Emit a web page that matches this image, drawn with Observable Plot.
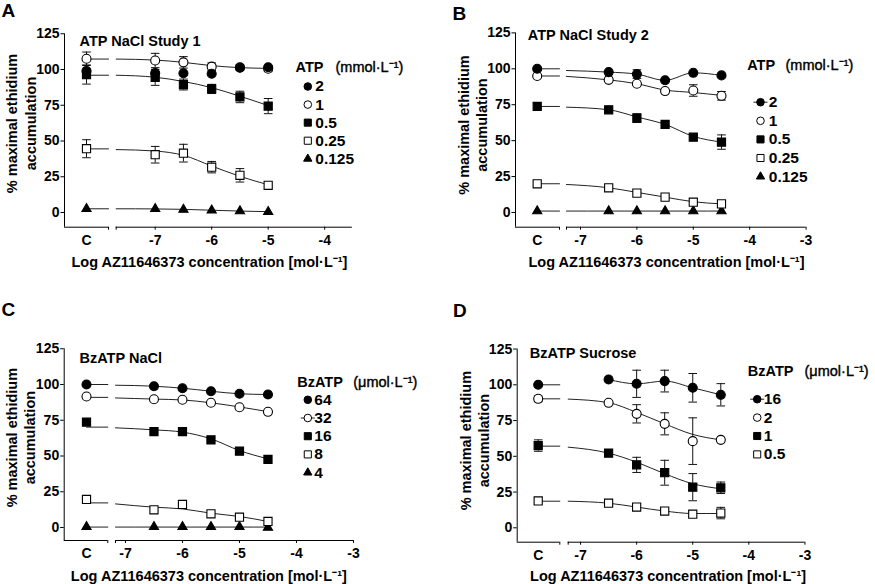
<!DOCTYPE html>
<html><head><meta charset="utf-8">
<script src="https://cdn.jsdelivr.net/npm/d3@7"></script>
<script src="https://cdn.jsdelivr.net/npm/@observablehq/plot@0.6"></script>
<style>
body{margin:0;background:#fff;}
#wrap{position:relative;width:875px;height:584px;overflow:hidden;background:#fff;font-family:"Liberation Sans",Arial,sans-serif;}
.panel{position:absolute;}
.letter{position:absolute;font-weight:bold;font-size:19px;line-height:1;color:#000;}
</style></head><body><div id="wrap"></div>
<script>
// ---------- DATA (first value in each row = control "C") ----------
const xLabel = "Log AZ11646373 concentration [mol·L⁻¹]";
const yLabel = "% maximal ethidium\naccumulation";
const xTicksA = [-7, -6, -5, -4];
const xTicksBCD = [-7, -6, -5, -4, -3];
const yTicks = [0, 25, 50, 75, 100, 125];

// Panel A: ATP NaCl Study 1
const xsA = [-7, -6.5, -6, -5.5, -5];
const labelsA = ["2", "1", "0.5", "0.25", "0.125"];
const valsA = [
  [99, 97.5, 97.4, 97, 101.2, 101.6],
  [107.5, 106.3, 105, 102, 101.5, 100.5],
  [96.5, 94.5, 89.5, 86.4, 80.8, 74.4],
  [44.6, 40.4, 41.5, 31.7, 26, 19],
  [2.5, 2.5, 2, 1.5, 1, 0.5]
];
const errsA = [
  [0, 0, 0, 0, 0, 0],
  [4.7, 5, 4, 2.6, 2, 2],
  [6.7, 5.6, 3.8, 3.2, 4, 5.3],
  [6.3, 5.8, 6.2, 4, 4.7, 0],
  [0, 0, 0, 0, 0, 0]
];
// fitted curve: [C segment level, value at start of log axis, value at each x]
const fitA = [
  null,
  [107.3, 107.3, 106.6, 105, 102.7, 101.3, 100.8],
  [96, 96, 94.6, 91.6, 87.3, 81.3, 74.8],
  [44.5, 44, 43, 40, 32.5, 25.3, 19.4],
  [2.6, 2.6, 2.5, 2.2, 1.6, 1, 0.6]
];

// Panel B: ATP NaCl Study 2
const xsB = [-6.5, -6, -5.5, -5, -4.5];
const labelsB = ["2", "1", "0.5", "0.25", "0.125"];
const valsB = [
  [100, 97.7, 96.3, 92, 97.2, 95.4],
  [95, 92.3, 89.6, 84.5, 84.9, 81.2],
  [73.8, 71.5, 65.7, 61.3, 52.4, 49],
  [20, 17.2, 13.5, 10.7, 7.2, 6],
  [1, 1, 1, 1, 1, 1]
];
const errsB = [
  [0, 0, 3, 0, 0, 0],
  [0, 0, 0, 0, 4, 3],
  [0, 0, 3, 0, 0, 5],
  [0, 0, 0, 0, 0, 2],
  [0, 0, 0, 0, 0, 0]
];
const fitB = [
  [100, 98.8, 97.7, 96.3, 92, 97.2, 95.4],
  [95, 94.7, 92.3, 89.6, 85.2, 83.5, 81.5],
  [73.8, 73.3, 71.5, 66.5, 61.3, 53, 49],
  [20, 19.5, 17.2, 14, 10.7, 7.5, 6],
  [1, 1, 1, 1, 1, 1, 1]
];

// Panel C: BzATP NaCl
const xsC = [-6.5, -6, -5.5, -5, -4.5];
const labelsC = ["64", "32", "16", "8", "4"];
const valsC = [
  [100, 98.8, 97.4, 95.3, 93.5, 93],
  [91.6, 89.7, 89.3, 87.2, 84.1, 80.9],
  [73.7, 67.1, 67.1, 61.3, 53.4, 47.6],
  [19.6, 12.4, 16.1, 9.6, 7.2, 4.2],
  [0.5, 0.5, 0.5, 0.5, 0.5, 0]
];
const errsC = [
  [0, 0, 0, 0, 0, 0],
  [0, 0, 0, 0, 0, 0],
  [0, 0, 0, 0, 0, 0],
  [0, 0, 0, 0, 0, 0],
  [0, 0, 0, 0, 0, 0]
];
const fitC = [
  [100, 99.5, 98.8, 97.4, 95.3, 93.5, 93],
  [91, 90.6, 89.8, 89.2, 87.2, 84.3, 81],
  [70.2, 69.7, 68.3, 66.7, 62, 53.8, 48],
  [17.2, 16.5, 14.2, 13, 10, 7.7, 4.2],
  [0.3, 0.3, 0.3, 0.3, 0.3, 0.3, 0.3]
];

// Panel D: BzATP Sucrose
const xsD = [-6.5, -6, -5.5, -5, -4.5];
const labelsD = ["16", "2", "1", "0.5"];
const valsD = [
  [100, 103.7, 100.7, 102.6, 97.9, 93],
  [90.2, 87.4, 79.7, 72.7, 60.6, 61.5],
  [57.5, 52.2, 44, 38.5, 28.4, 28],
  [18.8, 17.2, 14.5, 11.7, 9.5, 10.3]
];
const errsD = [
  [0, 0, 9.5, 7.6, 10, 7.8],
  [2, 0, 6.4, 7.7, 16.3, 0],
  [4, 0, 5.3, 8.7, 9.5, 4],
  [0, 0, 0, 0, 2, 4]
];
const fitD = [
  [100, null, 103.7, 100.7, 102.6, 97.9, 93],
  [90.2, 90, 87.5, 80.7, 72.7, 65.3, 61.5],
  [57.1, 56.4, 52.2, 45.9, 37.8, 30.8, 27.3],
  [18.6, 18.6, 17.2, 14.5, 11.7, 10, 10]
];

const symbols5 = ["circle", "circle", "square", "square", "triangle"];
const fills5 = ["black", "white", "black", "white", "black"];

// ---------- DRAWING ----------
const FONT = "Liberation Sans, Arial, sans-serif";
const capSym = {draw(ctx, size) { const w = Math.sqrt(size / Math.PI); ctx.moveTo(-w, 0); ctx.lineTo(w, 0); }};
const symR = {circle: 4.5, square: 4.6, triangle: 3.4};
const legR = {circle: 3.8, square: 4.0, triangle: 3.1};

function panel(cfg) {
  const {xs, labels, vals, errs, fits} = cfg;
  const syms = symbols5.slice(0, labels.length), fills = fills5.slice(0, labels.length);
  const k = cfg.decPx;
  const vmin = cfg.logStart - (cfg.logStartPx - cfg.axisPx) / k;
  const vC = cfg.logStart - (cfg.logStartPx - cfg.cPx) / k;
  const vCEnd = cfg.logStart - (cfg.logStartPx - cfg.cEndPx) / k;
  const right = cfg.axisPx + (cfg.logEnd - vmin) * k;
  const ky = (cfg.y0 - cfg.y100) / 100;
  const mT = cfg.y0 - 125 * ky;
  const yMin = -(cfg.bottom - cfg.y0) / ky;
  const W = 437, H = cfg.height;
  const mL = cfg.axisPx, mR = W - right, mB = H - cfg.bottom;
  const allX = [vC, ...xs];
  const pts = [], bars = [], caps = [], lines = [];
  labels.forEach((lab, s) => {
    vals[s].forEach((v, i) => {
      pts.push({s, x: allX[i], y: v});
      const e = errs[s][i];
      if (e > 0) {
        bars.push({x: allX[i], lo: v - e, hi: v + e});
        caps.push({x: allX[i], y: v - e}, {x: allX[i], y: v + e});
      }
    });
    const f = fits[s];
    if (f) {
      if (f[0] != null) lines.push({k: s + "c", x: vC, y: f[0]}, {k: s + "c", x: vCEnd, y: f[0]});
      [cfg.logStart, ...xs].forEach((x, j) => { if (f[j + 1] != null) lines.push({k: s + "l", x, y: f[j + 1]}); });
    }
  });
  const L = cfg.leg;
  const legendMarks = [];
  legendMarks.push(Plot.text([L.head], {text: d => d, frameAnchor: "top-left", dx: L.headX - mL, dy: L.headY - mT, textAnchor: "start", lineAnchor: "middle", fontSize: 14.5}));
  legendMarks.push(Plot.text([L.unit], {text: d => d, frameAnchor: "top-left", dx: L.headX + L.unitDx - mL, dy: L.headY - mT, textAnchor: "start", lineAnchor: "middle", fontSize: 14.5, fontWeight: "normal", fill: "black", stroke: "black", strokeWidth: 0.4}));
  labels.forEach((lab, i) => {
    const ry = L.row0 + i * L.step - mT;
    if (i === L.lineIdx) legendMarks.push(Plot.dot([0], {frameAnchor: "top-left", dx: L.symX - mL, dy: ry, symbol: capSym, r: 7, stroke: "#222", fill: "none", strokeWidth: 1}));
    legendMarks.push(Plot.dot([0], {frameAnchor: "top-left", dx: L.symX - mL, dy: ry, symbol: syms[i], r: legR[syms[i]], fill: fills[i], stroke: "black", strokeWidth: 1}));
    legendMarks.push(Plot.text([lab], {text: d => d, frameAnchor: "top-left", dx: L.textX - mL, dy: ry, textAnchor: "start", lineAnchor: "middle", fontSize: 15.5}));
  });
  const dotMarks = [];
  for (let s = labels.length - 1; s >= 0; s--) {
    dotMarks.push(Plot.dot(pts.filter(p => p.s === s), {x: "x", y: "y", symbol: syms[s], r: symR[syms[s]], fill: fills[s], stroke: "black", strokeWidth: 1.1}));
  }
  const svg = Plot.plot({
    width: W, height: H, marginLeft: mL, marginRight: mR, marginTop: mT, marginBottom: mB,
    x: {domain: [vmin, cfg.logEnd]},
    y: {domain: [yMin, 125]},
    style: {fontFamily: FONT, fontSize: "14px", fontWeight: "bold", color: "black", background: "transparent", overflow: "visible"},
    marks: [
      Plot.ruleX([vmin], {y1: () => yMin, y2: () => 125, stroke: "black", strokeWidth: 1}),
      Plot.ruleY([{a: vmin, b: vCEnd}, {a: cfg.logStart, b: cfg.logEnd}], {y: () => yMin, x1: "a", x2: "b", stroke: "black", strokeWidth: 1}),
      Plot.axisY({ticks: yTicks, tickSize: 3.5, tickPadding: 1.5, label: null, tickFormat: d => String(d)}),
      Plot.axisX({ticks: cfg.xTicks, tickSize: 3, tickPadding: 5, label: null, tickFormat: d => String(d)}),
      Plot.axisX({ticks: [vC], tickSize: 0, tickPadding: 8, label: null, tickFormat: () => "C"}),
      Plot.axisX({ticks: [vCEnd, cfg.logStart], tickSize: 3, label: null, tickFormat: () => ""}),
      Plot.text([xLabel], {text: d => d, frameAnchor: "bottom", dx: cfg.xLabDx, dy: cfg.xLabDy, lineAnchor: "middle", fontSize: 14.5}),
      Plot.text([yLabel], {text: d => d, frameAnchor: "left", rotate: -90, textAnchor: "middle", lineAnchor: "middle", lineHeight: 1.25, fontSize: 14.5, dx: cfg.yLabDx, dy: cfg.yLabDy}),
      Plot.text([cfg.title], {text: d => d, frameAnchor: "top-left", dx: cfg.titleX - mL, dy: cfg.titleY - mT, textAnchor: "start", lineAnchor: "middle", fontSize: 14.5}),
      Plot.line(lines, {x: "x", y: "y", z: "k", curve: "monotone-x", stroke: "#222", strokeWidth: 1}),
      Plot.ruleX(bars, {x: "x", y1: "lo", y2: "hi", stroke: "#111", strokeWidth: 1}),
      Plot.dot(caps, {x: "x", y: "y", symbol: capSym, r: 4.3, stroke: "#111", fill: "none", strokeWidth: 1}),
      ...dotMarks,
      ...legendMarks
    ]
  });
  svg.classList.add("panel");
  svg.style.left = cfg.left + "px";
  svg.style.top = cfg.top + "px";
  return svg;
}

const wrap = document.getElementById("wrap");
const cfgs = [
  {left: 0, top: 0, height: 290, axisPx: 64, cPx: 86, cEndPx: 108, logStartPx: 115.7, logStart: -7.69, logEnd: -3.51, decPx: 56.5,
   y0: 212, y100: 69, bottom: 226.7, xTicks: xTicksA, title: "ATP NaCl Study 1", titleX: 79, titleY: 41.3,
   xLabDx: 1, xLabDy: 35, yLabDx: -43.8, yLabDy: -7,
   xs: xsA, labels: labelsA, vals: valsA, errs: errsA, fits: fitA,
   leg: {head: "ATP", unit: "(mmol·L⁻¹)", headX: 295, headY: 66.7, unitDx: 40, symX: 307.3, textX: 314.8, row0: 86, step: 18.07, lineIdx: -1}},
  {left: 438, top: 0, height: 290, axisPx: 77, cPx: 98.7, cEndPx: 121, logStartPx: 128, logStart: -7.248, logEnd: -3, decPx: 56.4,
   y0: 212, y100: 68.3, bottom: 226.7, xTicks: xTicksBCD, title: "ATP NaCl Study 2", titleX: 89.3, titleY: 35,
   xLabDx: 5.7, xLabDy: 35, yLabDx: -43, yLabDy: -5,
   xs: xsB, labels: labelsB, vals: valsB, errs: errsB, fits: fitB,
   leg: {head: "ATP", unit: "(mmol·L⁻¹)", headX: 308.7, headY: 65, unitDx: 38.3, symX: 322, textX: 330.3, row0: 101.7, step: 18.6, lineIdx: 0}},
  {left: 0, top: 314, height: 270, axisPx: 63.7, cPx: 86, cEndPx: 107.3, logStartPx: 115, logStart: -7.175, logEnd: -3, decPx: 57,
   y0: 213, y100: 70, bottom: 226, xTicks: xTicksBCD, title: "BzATP NaCl", titleX: 79, titleY: 44.3,
   xLabDx: 0, xLabDy: 36, yLabDx: -43.8, yLabDy: -7,
   xs: xsC, labels: labelsC, vals: valsC, errs: errsC, fits: fitC,
   leg: {head: "BzATP", unit: "(μmol·L⁻¹)", headX: 296.7, headY: 67.7, unitDx: 56, symX: 307.3, textX: 313.8, row0: 85.3, step: 18.2, lineIdx: 1}},
  {left: 438, top: 314, height: 270, axisPx: 78.7, cPx: 99.7, cEndPx: 121.3, logStartPx: 129.7, logStart: -7.22, logEnd: -3, decPx: 56.1,
   y0: 213.3, y100: 70.3, bottom: 227.7, xTicks: xTicksBCD, title: "BzATP Sucrose", titleX: 91.3, titleY: 39.3,
   xLabDx: 7, xLabDy: 34.3, yLabDx: -43, yLabDy: -5,
   xs: xsD, labels: labelsD, vals: valsD, errs: errsD, fits: fitD,
   leg: {head: "BzATP", unit: "(μmol·L⁻¹)", headX: 309.3, headY: 56.7, unitDx: 56.7, symX: 318.7, textX: 325.3, row0: 84.7, step: 18.4, lineIdx: 0}}
];
cfgs.forEach(c => wrap.appendChild(panel(c)));

const letters = [["A", 1.5, 0.5], ["B", 452.5, 3.5], ["C", 1.5, 299.5], ["D", 453, 300.5]];
letters.forEach(([t, x, y]) => {
  const d = document.createElement("div");
  d.className = "letter"; d.textContent = t;
  d.style.left = x + "px"; d.style.top = y + "px";
  wrap.appendChild(d);
});
</script>
</body></html>
